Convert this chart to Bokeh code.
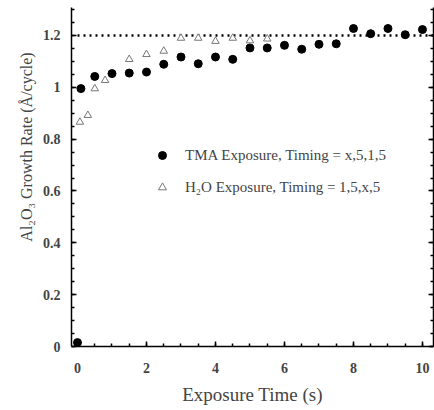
from bokeh.plotting import figure
from bokeh.models import Range1d, LinearAxis, Legend, LegendItem, FixedTicker
from bokeh.embed import file_html
from bokeh.resources import INLINE

# --- data ---
tma_x = [0, 0.1, 0.5, 1, 1.5, 2, 2.5, 3, 3.5, 4, 4.5, 5, 5.5, 6, 6.5, 7, 7.5, 8, 8.5, 9, 9.5, 10]
tma_y = [0.015, 0.995, 1.042, 1.053, 1.055, 1.059, 1.089, 1.117, 1.091, 1.117, 1.108, 1.152,
         1.152, 1.162, 1.147, 1.166, 1.168, 1.227, 1.207, 1.227, 1.203, 1.223]
h2o_x = [0.07, 0.3, 0.5, 0.8, 1.5, 2, 2.5, 3, 3.5, 4, 4.5, 5, 5.5]
h2o_y = [0.866, 0.892, 0.995, 1.027, 1.108, 1.127, 1.14, 1.19, 1.19, 1.178, 1.19, 1.18, 1.187]
ref_x = [0, 10.32]
ref_y = [1.2, 1.2]
x_ticks = [0, 2, 4, 6, 8, 10]
x_minor = [0.5 * i for i in range(0, 21)]
y_ticks = [0, 0.2, 0.4, 0.6, 0.8, 1, 1.2]
y_minor = [0.05 * i for i in range(0, 27)]
y_tick_labels = {0: "0", 0.2: "0.2", 0.4: "0.4", 0.6: "0.6", 0.8: "0.8", 1: "1", 1.2: "1.2"}

FONT = "Liberation Serif"
NBSP = "\u00a0"

p = figure(width=434, height=410, output_backend="svg", toolbar_location=None,
           x_range=Range1d(-0.174, 10.32), y_range=Range1d(0, 1.308),
           min_border_left=71, min_border_right=1, min_border_top=7, min_border_bottom=64)
p.outline_line_color = None
p.background_fill_color = "white"
p.border_fill_color = "white"
p.xgrid.visible = False
p.ygrid.visible = False

def style_axis(ax):
    ax.major_tick_in = 5
    ax.major_tick_out = 0
    ax.minor_tick_in = 3
    ax.minor_tick_out = 0
    ax.axis_line_width = 1.5
    ax.major_tick_line_width = 1.5
    ax.minor_tick_line_width = 1.5
    ax.major_label_text_font = FONT
    ax.major_label_text_font_size = "14px"
    ax.major_label_text_font_style = "bold"

for ax in p.xaxis:
    style_axis(ax)
    ax.ticker = FixedTicker(ticks=x_ticks, minor_ticks=x_minor)
    ax.axis_label = "Exposure Time (s)"
    ax.axis_label_text_font = FONT
    ax.axis_label_text_font_style = "normal"
    ax.axis_label_text_font_size = "19px"
    ax.axis_label_standoff = 8
    ax.major_label_standoff = 16

for ax in p.yaxis:
    style_axis(ax)
    ax.ticker = FixedTicker(ticks=y_ticks, minor_ticks=y_minor)
    ax.major_label_overrides = y_tick_labels
    ax.major_label_standoff = 11
    ax.axis_label = NBSP * 15 + "Al\u2082O\u2083 Growth Rate (\u00c5/cycle)"
    ax.axis_label_text_font = FONT
    ax.axis_label_text_font_style = "normal"
    ax.axis_label_text_font_size = "16px"
    ax.axis_label_standoff = 5

right = LinearAxis(ticker=FixedTicker(ticks=y_ticks, minor_ticks=y_minor))
style_axis(right)
right.major_label_overrides = {t: "" for t in y_ticks}
right.major_label_standoff = 0
p.add_layout(right, "right")

# reference dotted line
p.line(ref_x, ref_y, line_color="black", line_width=2.5, line_dash="2 4")

r_tma = p.scatter(tma_x, tma_y, marker="circle", size=8, fill_color="black", line_color="black")
r_h2o = p.scatter(h2o_x, h2o_y, marker="triangle", size=7.5, fill_color="white",
                  line_color="#777777", line_width=1)

legend = Legend(items=[
    LegendItem(label="TMA Exposure, Timing = x,5,1,5", renderers=[r_tma]),
    LegendItem(label="H\u2082O Exposure, Timing = 1,5,x,5", renderers=[r_h2o]),
], location=(81, 149), padding=0, margin=0, spacing=12, glyph_width=20, glyph_height=20,
    label_standoff=13, label_text_font=FONT, label_text_font_size="15px",
    border_line_color=None, background_fill_alpha=0)
p.add_layout(legend, "center")

open("out.html", "w").write(file_html(p, INLINE))
